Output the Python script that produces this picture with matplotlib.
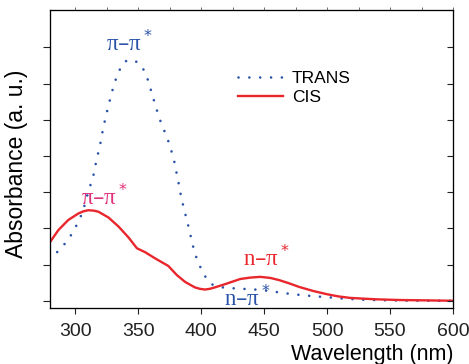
import matplotlib
matplotlib.use("Agg")
import matplotlib.pyplot as plt
import numpy as np

plt.rcParams['font.family'] = ['Liberation Sans', 'DejaVu Sans']

trans_nm = [280, 282.6, 291, 297.7, 302.5, 306.4, 308.3, 311.7, 314.4, 316.3, 318.3, 320.4,
            322, 324, 326.2, 328.6, 331, 334.4, 337, 339.7, 344, 348.1, 351, 353.4, 357.5,
            360.2, 362.9, 365.6, 368.8, 372.7, 375.6, 378.3, 380.2, 382, 383.7, 385.8, 388,
            390.3, 392.4, 394.5, 397.7, 402.2, 405.5, 409.6, 417, 427, 438, 447, 456, 464,
            473, 482, 491, 500, 509, 518, 527, 536, 550, 570, 600]
trans_abs = [1.12, 1.23, 1.54, 1.86, 2.18, 2.49, 2.76, 3.15, 3.45, 3.78, 4.09, 4.41,
             4.73, 5.04, 5.36, 5.68, 6.0, 6.31, 6.5, 6.61, 6.66, 6.61, 6.55, 6.45, 6.12,
             5.81, 5.49, 5.18, 4.85, 4.54, 4.23, 3.91, 3.58, 3.27, 2.95, 2.62, 2.32,
             2.0, 1.68, 1.37, 1.05, 0.73, 0.55, 0.43, 0.37, 0.34, 0.32, 0.3, 0.26, 0.22,
             0.18, 0.15, 0.12, 0.1, 0.07, 0.05, 0.03, 0.02, 0.01, 0.0, 0.0]

cis_nm = [280, 286.6, 294.5, 302.5, 306.5, 310.4, 314.5, 318.4, 326.4, 334.4, 342.3, 349,
          355.6, 363.5, 374, 380.7, 387.3, 395, 399, 403, 407, 411, 420, 431, 439, 447,
          455, 462, 470, 478, 489, 500, 509, 518, 528, 539, 558, 580, 600]
cis_abs = [1.62, 1.95, 2.23, 2.41, 2.47, 2.5, 2.49, 2.46, 2.3, 2.05, 1.75, 1.45,
           1.34, 1.17, 0.96, 0.71, 0.52, 0.37, 0.33, 0.31, 0.33, 0.37, 0.47, 0.6, 0.64, 0.66,
           0.63, 0.57, 0.48, 0.38, 0.27, 0.18, 0.12, 0.08, 0.06, 0.04, 0.02, 0.01, 0.0]

x_ticks = [300, 350, 400, 450, 500, 550, 600]

blue = '#2a52a8'
red = '#e8262c'
pink = '#e0307a'

fig = plt.figure(figsize=(4.69, 3.64), dpi=100)
ax = fig.add_axes([50/469, 1 - 308/364, 403/469, 298/364])

ax.plot(trans_nm, trans_abs, color=blue, linestyle=(0, (0.01, 4.1)), linewidth=1.9,
        dash_capstyle='round', label='TRANS')
ax.plot(cis_nm, cis_abs, color=red, linewidth=1.7, label='CIS')

ax.set_xlim(280, 600)
ax.set_ylim(-0.2, 8.03)
ax.set_xticks(x_ticks)
ax.set_yticks(range(0, 8))
ax.set_yticklabels([])
ax.tick_params(axis='x', labelsize=14, direction='out', length=4.5, pad=6, colors='#222222')
ax.tick_params(axis='y', direction='out', length=5, colors='#222222')
for s in ax.spines.values():
    s.set_color('#222222')

# right and top ticks
axr = ax.twinx()
axr.set_ylim(ax.get_ylim())
axr.set_yticks(range(0, 8))
axr.set_yticklabels([])
axr.tick_params(axis='y', direction='in', length=4, colors='#222222')
axt = ax.twiny()
axt.set_xlim(ax.get_xlim())
axt.set_xticks(np.arange(300, 601, 25))
axt.set_xticklabels([])
axt.tick_params(axis='x', direction='out', length=2, colors='#555555', width=0.6)

ax.set_ylabel('Absorbance (a. u.)', fontsize=16.5)
ax.yaxis.set_label_coords(-22/403, 0.485)
ax.set_xlabel('Wavelength (nm)', fontsize=15.5, loc='right', labelpad=3)

ser = ['Liberation Serif', 'DejaVu Serif']
lab = r'$\mathregular{\pi}$–$\mathregular{\pi}^*$'
ax.text(343, 6.9, lab, color=blue, fontsize=16.5, ha='center', family=ser)
ax.text(323.6, 2.64, lab, color=pink, fontsize=16.5, ha='center', family=ser)
ax.text(452, 0.95, r'n–$\mathregular{\pi}^*$', color=red, fontsize=16.5, ha='center', family=ser)
ax.text(437, -0.15, r'n–$\mathregular{\pi}^*$', color=blue, fontsize=16.5, ha='center', family=ser)

ax.legend(loc='upper left', bbox_to_anchor=(0.45, 0.82), frameon=False, fontsize=12.5,
          handlelength=2.6, handletextpad=0.5, labelspacing=0.25, borderaxespad=0)

fig.savefig('out.png', dpi=100)
